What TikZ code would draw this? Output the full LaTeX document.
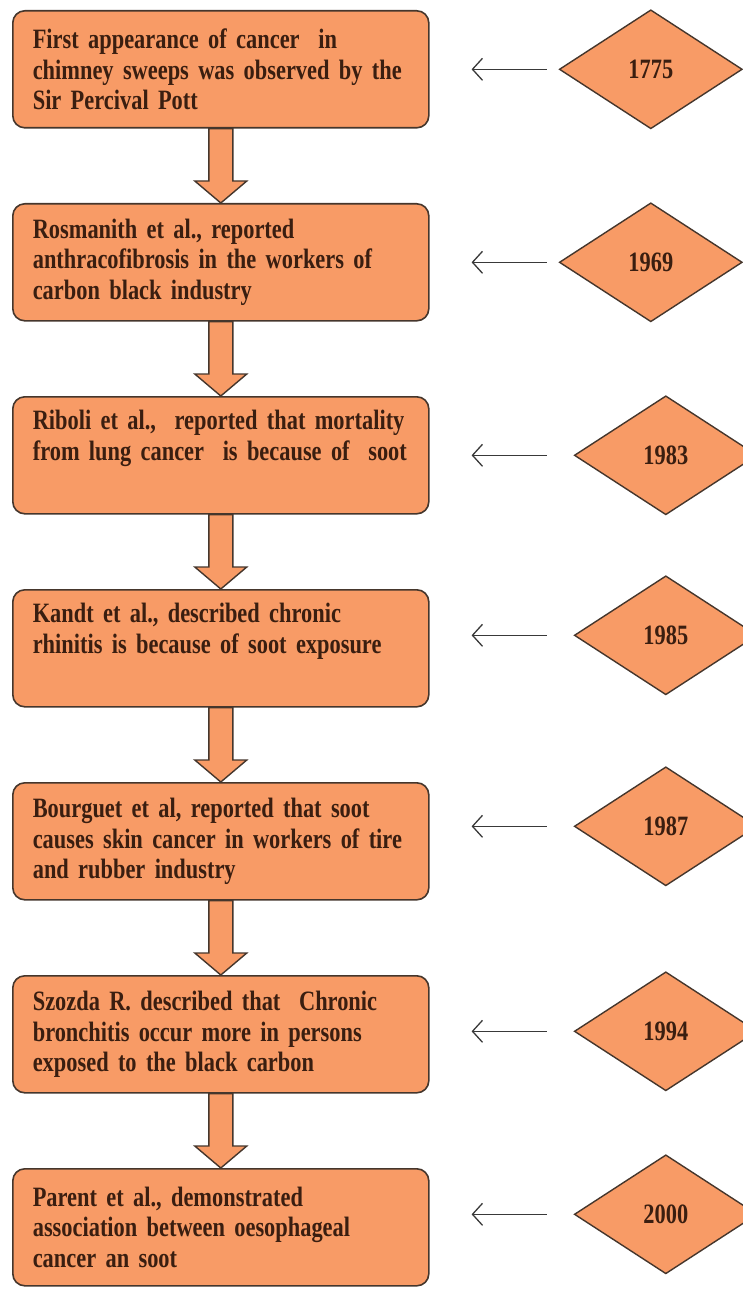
\documentclass[tikz,border=0pt]{standalone}
\usepackage{fontspec}
\newfontfamily\chartfont{Liberation Serif}[FakeStretch=0.8,WordSpace=0.55]
\usepackage{tikz}
\usetikzlibrary{positioning,shapes.geometric,arrows.meta,calc}
\definecolor{sorange}{HTML}{F89B66}
\definecolor{sedge}{HTML}{45362C}
\definecolor{stext}{HTML}{3A1E10}

\begin{document}
\begin{tikzpicture}[node distance=37.2pt,
    chartfont/.style={font=\chartfont\bfseries\fontsize{14}{15.25}\selectfont,text=stext},
    event/.style={rectangle,rounded corners=6pt,draw=sedge,fill=sorange,line width=0.8pt,
      minimum width=208pt,minimum height=58.5pt,text width=188pt,align=left,inner sep=0pt,chartfont},
    year/.style={diamond,draw=sedge,fill=sorange,line width=0.7pt,
      minimum width=91.5pt,minimum height=59.5pt,inner sep=0pt,chartfont},
    pointer/.style={draw=gray!45!black,line width=0.65pt,-{Straight Barb[length=5pt,width=11pt]},shorten >=21pt},
    blockarrow/.style={draw=sedge,fill=sorange,line width=0.7pt,line join=miter}]
    \useasboundingbox (0,0) rectangle (371.5pt,-644.5pt);

    \node[event,anchor=north west] (b1) at (6pt,-5pt) {First appearance of cancer\ \ in\\chimney sweeps was observed by the\\Sir Percival Pott};
    \node[event,below=of b1] (b2) {Rosmanith et al., reported\\anthracofibrosis in the workers of\\carbon black industry};
    \node[event,below=of b2] (b3) {Riboli et al.,\ \ reported that mortality\\from lung cancer\ \ is because of\ \ soot\\\strut};
    \node[event,below=of b3] (b4) {Kandt et al., described chronic\\rhinitis is because of soot exposure\\\strut};
    \node[event,below=of b4] (b5) {Bourguet et al, reported that soot\\causes skin cancer in workers of tire\\and rubber industry};
    \node[event,below=of b5] (b6) {Szozda R. described that\ \ Chronic\\bronchitis occur more in persons\\exposed to the black carbon};
    \node[event,below=of b6] (b7) {Parent et al., demonstrated\\association between oesophageal\\cancer an soot};

    \node[year,right=64.5pt of b1] (y1) {1775};
    \node[year,right=64.5pt of b2] (y2) {1969};
    \node[year,right=72pt of b3] (y3) {1983};
    \node[year,right=72pt of b4,yshift=6.5pt] (y4) {1985};
    \node[year,right=72pt of b5,yshift=7.5pt] (y5) {1987};
    \node[year,right=72pt of b6,yshift=1.5pt] (y6) {1994};
    \node[year,right=72pt of b7,yshift=6.5pt] (y7) {2000};

    \foreach \i/\s in {1/6pt,2/6pt,3/13.5pt,4/13.5pt,5/13.5pt,6/13.5pt,7/13.5pt}
      \draw[pointer,shorten <=\s] (y\i.west) -- (y\i.west -| b\i.east);

    \foreach \a/\b in {b1/b2,b2/b3,b3/b4,b4/b5,b5/b6,b6/b7}
      \filldraw[blockarrow] let \p1=(\a.south), \p2=(\b.north) in
        (\x1-6pt,\y1) -- (\x1-6pt,\y2+11pt) -- (\x1-13pt,\y2+11pt) -- (\x1,\y2)
        -- (\x1+13pt,\y2+11pt) -- (\x1+6pt,\y2+11pt) -- (\x1+6pt,\y1) -- cycle;
\end{tikzpicture}
\end{document}
